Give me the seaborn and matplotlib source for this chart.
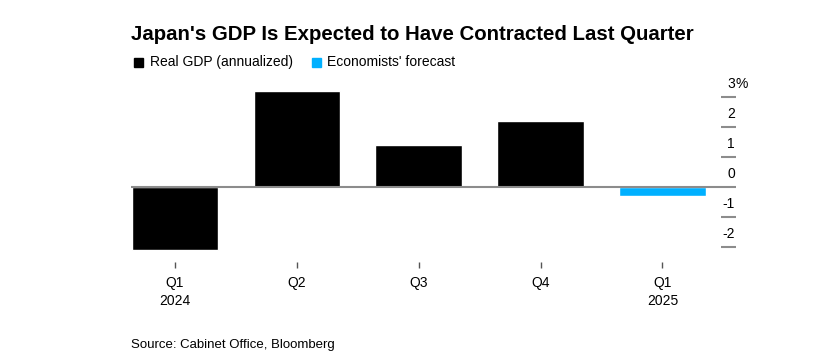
import matplotlib
matplotlib.use("Agg")
import matplotlib.pyplot as plt
import matplotlib.transforms as mtransforms
import seaborn as sns
import pandas as pd

quarters = ["Q1\n2024", "Q2", "Q3", "Q4", "Q1\n2025"]
gdp_values = [-2.1, 3.2, 1.4, 2.2, -0.3]
series = ["Real GDP (annualized)", "Real GDP (annualized)", "Real GDP (annualized)",
          "Real GDP (annualized)", "Economists' forecast"]
series_colors = {"Real GDP (annualized)": "#000000", "Economists' forecast": "#00b0ff"}
ytick_values = [-2, -1, 0, 1, 2, 3]
ytick_labels = ["-2", "-1", "0", "1", "2", "3"]

sns.set_style("white")
plt.rcParams['font.family'] = ['Liberation Sans', 'DejaVu Sans']
plt.rcParams['text.color'] = 'black'
plt.rcParams['xtick.color'] = 'black'
plt.rcParams['ytick.color'] = 'black'

df = pd.DataFrame({"quarter": quarters, "value": gdp_values, "series": series})

fig = plt.figure(figsize=(8.14, 3.62), dpi=100)
ax = fig.add_axes([131/814, 1 - 262/362, (721-131)/814, (262-88)/362])

sns.barplot(data=df, x="quarter", y="value", hue="series", palette=series_colors,
            dodge=False, width=0.71, saturation=1, legend=False, ax=ax)

ax.axhline(0, color="#8c8c8c", lw=1.5, zorder=5)
ax.set_xlim(-0.36, 4.48)
ax.set_ylim(-2.5, 3.3)
for s in ax.spines.values():
    s.set_visible(False)
ax.set_xlabel("")
ax.set_ylabel("")

ax.tick_params(axis="x", length=4, width=1, color="#555555", direction="out",
               labelsize=10, pad=6, bottom=True, labelcolor="black")
for lbl in ax.get_xticklabels():
    lbl.set_linespacing(1.35)

ax.yaxis.tick_right()
ax.set_yticks(ytick_values)
ax.set_yticklabels([])
ax.tick_params(axis="y", right=True, left=False, length=11, width=1.5,
               color="#8c8c8c", direction="out")

trans = mtransforms.blended_transform_factory(fig.transFigure, ax.transData)
off = mtransforms.ScaledTranslation(0, 13/100, fig.dpi_scale_trans)
for v, t in zip(ytick_values, ytick_labels):
    ax.text(735/814, v, t, transform=trans + off, ha="right", va="center",
            fontsize=10, color="black")
    if v == 3:
        ax.text(735/814, v, "%", transform=trans + off, ha="left", va="center",
                fontsize=10, color="black")

fig.text(131/814, 1 - 35/362, "Japan's GDP Is Expected to Have Contracted Last Quarter",
         fontsize=14.7, fontweight="bold", ha="left", va="center", color="black")

# legend
fig.patches.append(plt.Rectangle((134/814, 1 - 67/362), 9/814, 9/362,
                                 transform=fig.transFigure, color="#000000"))
fig.text(150/814, 1 - 62/362, "Real GDP (annualized)", fontsize=10, ha="left", va="center")
fig.patches.append(plt.Rectangle((312/814, 1 - 67/362), 9/814, 9/362,
                                 transform=fig.transFigure, color="#00b0ff"))
fig.text(327/814, 1 - 62/362, "Economists' forecast", fontsize=10, ha="left", va="center")

fig.text(131/814, 1 - 345/362, "Source: Cabinet Office, Bloomberg", fontsize=9.5,
         ha="left", va="center")

fig.savefig("out.png", dpi=100)
